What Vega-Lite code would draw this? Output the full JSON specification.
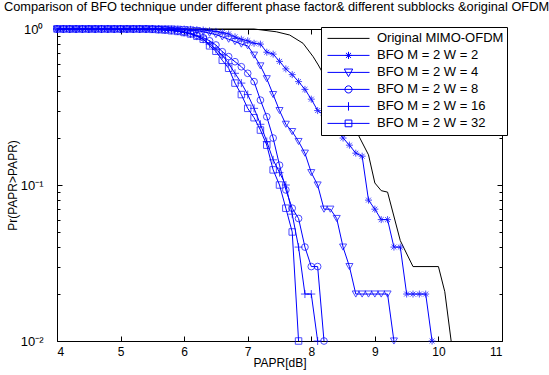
{
"$schema": "https://vega.github.io/schema/vega-lite/v6.json",
"width": 445, "height": 312,
"autosize": {"type": "none"},
"padding": {"left": 57, "top": 29, "right": 47, "bottom": 34},
"background": "white",
"title": {"text": "Comparison of BFO technique under different phase factor& different subblocks &original OFDM", "font": "Liberation Sans", "fontSize": 12.8, "fontWeight": "normal", "color": "black", "anchor": "middle", "dx": -3, "offset": 9},
"config": {
  "font": "Liberation Sans",
  "view": {"stroke": null},
  "axis": {"domainColor": "black", "tickColor": "black", "labelColor": "black", "titleColor": "black", "labelFont": "Liberation Sans", "titleFont": "Liberation Sans", "labelFontSize": 12, "titleFontSize": 12, "titleFontWeight": "normal", "grid": false, "domainWidth": 1, "tickWidth": 1}
},
"data": {"values": [
{"series":"Original MIMO-OFDM","papr":4,"p":1},{"series":"Original MIMO-OFDM","papr":7.1,"p":1},{"series":"Original MIMO-OFDM","papr":7.45,"p":0.96},{"series":"Original MIMO-OFDM","papr":7.66,"p":0.915},{"series":"Original MIMO-OFDM","papr":7.87,"p":0.81},{"series":"Original MIMO-OFDM","papr":8.03,"p":0.664},{"series":"Original MIMO-OFDM","papr":8.11,"p":0.588},{"series":"Original MIMO-OFDM","papr":8.37,"p":0.38},{"series":"Original MIMO-OFDM","papr":8.74,"p":0.209},{"series":"Original MIMO-OFDM","papr":8.9,"p":0.156},{"series":"Original MIMO-OFDM","papr":9.0,"p":0.103},{"series":"Original MIMO-OFDM","papr":9.1,"p":0.092},{"series":"Original MIMO-OFDM","papr":9.2,"p":0.09},{"series":"Original MIMO-OFDM","papr":9.4,"p":0.044},{"series":"Original MIMO-OFDM","papr":9.6,"p":0.03},{"series":"Original MIMO-OFDM","papr":10.0,"p":0.03},{"series":"Original MIMO-OFDM","papr":10.1,"p":0.0207},{"series":"Original MIMO-OFDM","papr":10.2,"p":0.01},

{"series":"BFO M = 2 W = 2","papr":4.0,"p":1},{"series":"BFO M = 2 W = 2","papr":4.1,"p":1},{"series":"BFO M = 2 W = 2","papr":4.2,"p":1},{"series":"BFO M = 2 W = 2","papr":4.3,"p":1},{"series":"BFO M = 2 W = 2","papr":4.4,"p":1},{"series":"BFO M = 2 W = 2","papr":4.5,"p":1},{"series":"BFO M = 2 W = 2","papr":4.6,"p":1},{"series":"BFO M = 2 W = 2","papr":4.7,"p":1},{"series":"BFO M = 2 W = 2","papr":4.8,"p":1},{"series":"BFO M = 2 W = 2","papr":4.9,"p":1},{"series":"BFO M = 2 W = 2","papr":5.0,"p":1},{"series":"BFO M = 2 W = 2","papr":5.1,"p":1},{"series":"BFO M = 2 W = 2","papr":5.2,"p":1},{"series":"BFO M = 2 W = 2","papr":5.3,"p":1},{"series":"BFO M = 2 W = 2","papr":5.4,"p":1},{"series":"BFO M = 2 W = 2","papr":5.5,"p":1},{"series":"BFO M = 2 W = 2","papr":5.6,"p":1},{"series":"BFO M = 2 W = 2","papr":5.7,"p":1},{"series":"BFO M = 2 W = 2","papr":5.8,"p":1},{"series":"BFO M = 2 W = 2","papr":5.9,"p":1},{"series":"BFO M = 2 W = 2","papr":6.0,"p":1},{"series":"BFO M = 2 W = 2","papr":6.1,"p":0.995},{"series":"BFO M = 2 W = 2","papr":6.2,"p":0.99},{"series":"BFO M = 2 W = 2","papr":6.3,"p":0.985},{"series":"BFO M = 2 W = 2","papr":6.4,"p":0.975},{"series":"BFO M = 2 W = 2","papr":6.5,"p":0.965},{"series":"BFO M = 2 W = 2","papr":6.6,"p":0.95},{"series":"BFO M = 2 W = 2","papr":6.7,"p":0.93},{"series":"BFO M = 2 W = 2","papr":6.8,"p":0.89},{"series":"BFO M = 2 W = 2","papr":6.9,"p":0.86},{"series":"BFO M = 2 W = 2","papr":7.0,"p":0.84},{"series":"BFO M = 2 W = 2","papr":7.1,"p":0.81},{"series":"BFO M = 2 W = 2","papr":7.2,"p":0.8},{"series":"BFO M = 2 W = 2","papr":7.3,"p":0.71},{"series":"BFO M = 2 W = 2","papr":7.4,"p":0.69},{"series":"BFO M = 2 W = 2","papr":7.5,"p":0.62},{"series":"BFO M = 2 W = 2","papr":7.6,"p":0.555},{"series":"BFO M = 2 W = 2","papr":7.7,"p":0.51},{"series":"BFO M = 2 W = 2","papr":7.8,"p":0.46},{"series":"BFO M = 2 W = 2","papr":7.9,"p":0.41},{"series":"BFO M = 2 W = 2","papr":8.0,"p":0.355},{"series":"BFO M = 2 W = 2","papr":8.1,"p":0.3},{"series":"BFO M = 2 W = 2","papr":8.2,"p":0.28},{"series":"BFO M = 2 W = 2","papr":8.3,"p":0.25},{"series":"BFO M = 2 W = 2","papr":8.4,"p":0.23},{"series":"BFO M = 2 W = 2","papr":8.5,"p":0.2},{"series":"BFO M = 2 W = 2","papr":8.6,"p":0.18},{"series":"BFO M = 2 W = 2","papr":8.7,"p":0.16},{"series":"BFO M = 2 W = 2","papr":8.8,"p":0.153},{"series":"BFO M = 2 W = 2","papr":8.9,"p":0.08},{"series":"BFO M = 2 W = 2","papr":9.0,"p":0.07},{"series":"BFO M = 2 W = 2","papr":9.1,"p":0.06},{"series":"BFO M = 2 W = 2","papr":9.2,"p":0.06},{"series":"BFO M = 2 W = 2","papr":9.3,"p":0.04},{"series":"BFO M = 2 W = 2","papr":9.4,"p":0.04},{"series":"BFO M = 2 W = 2","papr":9.5,"p":0.02},{"series":"BFO M = 2 W = 2","papr":9.6,"p":0.02},{"series":"BFO M = 2 W = 2","papr":9.7,"p":0.02},{"series":"BFO M = 2 W = 2","papr":9.8,"p":0.02},{"series":"BFO M = 2 W = 2","papr":9.9,"p":0.01},

{"series":"BFO M = 2 W = 4","papr":4.0,"p":1},{"series":"BFO M = 2 W = 4","papr":4.1,"p":1},{"series":"BFO M = 2 W = 4","papr":4.2,"p":1},{"series":"BFO M = 2 W = 4","papr":4.3,"p":1},{"series":"BFO M = 2 W = 4","papr":4.4,"p":1},{"series":"BFO M = 2 W = 4","papr":4.5,"p":1},{"series":"BFO M = 2 W = 4","papr":4.6,"p":1},{"series":"BFO M = 2 W = 4","papr":4.7,"p":1},{"series":"BFO M = 2 W = 4","papr":4.8,"p":1},{"series":"BFO M = 2 W = 4","papr":4.9,"p":1},{"series":"BFO M = 2 W = 4","papr":5.0,"p":1},{"series":"BFO M = 2 W = 4","papr":5.1,"p":1},{"series":"BFO M = 2 W = 4","papr":5.2,"p":1},{"series":"BFO M = 2 W = 4","papr":5.3,"p":1},{"series":"BFO M = 2 W = 4","papr":5.4,"p":1},{"series":"BFO M = 2 W = 4","papr":5.5,"p":1},{"series":"BFO M = 2 W = 4","papr":5.6,"p":1},{"series":"BFO M = 2 W = 4","papr":5.7,"p":1},{"series":"BFO M = 2 W = 4","papr":5.8,"p":1},{"series":"BFO M = 2 W = 4","papr":5.9,"p":0.995},{"series":"BFO M = 2 W = 4","papr":6.0,"p":0.99},{"series":"BFO M = 2 W = 4","papr":6.1,"p":0.985},{"series":"BFO M = 2 W = 4","papr":6.2,"p":0.975},{"series":"BFO M = 2 W = 4","papr":6.3,"p":0.96},{"series":"BFO M = 2 W = 4","papr":6.4,"p":0.94},{"series":"BFO M = 2 W = 4","papr":6.5,"p":0.92},{"series":"BFO M = 2 W = 4","papr":6.6,"p":0.89},{"series":"BFO M = 2 W = 4","papr":6.7,"p":0.86},{"series":"BFO M = 2 W = 4","papr":6.8,"p":0.83},{"series":"BFO M = 2 W = 4","papr":6.9,"p":0.8},{"series":"BFO M = 2 W = 4","papr":7.0,"p":0.78},{"series":"BFO M = 2 W = 4","papr":7.1,"p":0.68},{"series":"BFO M = 2 W = 4","papr":7.2,"p":0.58},{"series":"BFO M = 2 W = 4","papr":7.3,"p":0.48},{"series":"BFO M = 2 W = 4","papr":7.4,"p":0.38},{"series":"BFO M = 2 W = 4","papr":7.5,"p":0.3},{"series":"BFO M = 2 W = 4","papr":7.6,"p":0.245},{"series":"BFO M = 2 W = 4","papr":7.7,"p":0.22},{"series":"BFO M = 2 W = 4","papr":7.8,"p":0.19},{"series":"BFO M = 2 W = 4","papr":7.9,"p":0.16},{"series":"BFO M = 2 W = 4","papr":8.0,"p":0.12},{"series":"BFO M = 2 W = 4","papr":8.1,"p":0.1},{"series":"BFO M = 2 W = 4","papr":8.2,"p":0.07},{"series":"BFO M = 2 W = 4","papr":8.3,"p":0.07},{"series":"BFO M = 2 W = 4","papr":8.4,"p":0.061},{"series":"BFO M = 2 W = 4","papr":8.5,"p":0.04},{"series":"BFO M = 2 W = 4","papr":8.6,"p":0.03},{"series":"BFO M = 2 W = 4","papr":8.7,"p":0.02},{"series":"BFO M = 2 W = 4","papr":8.8,"p":0.02},{"series":"BFO M = 2 W = 4","papr":8.9,"p":0.02},{"series":"BFO M = 2 W = 4","papr":9.0,"p":0.02},{"series":"BFO M = 2 W = 4","papr":9.1,"p":0.02},{"series":"BFO M = 2 W = 4","papr":9.2,"p":0.02},{"series":"BFO M = 2 W = 4","papr":9.3,"p":0.01},

{"series":"BFO M = 2 W = 8","papr":4.0,"p":1},{"series":"BFO M = 2 W = 8","papr":4.1,"p":1},{"series":"BFO M = 2 W = 8","papr":4.2,"p":1},{"series":"BFO M = 2 W = 8","papr":4.3,"p":1},{"series":"BFO M = 2 W = 8","papr":4.4,"p":1},{"series":"BFO M = 2 W = 8","papr":4.5,"p":1},{"series":"BFO M = 2 W = 8","papr":4.6,"p":1},{"series":"BFO M = 2 W = 8","papr":4.7,"p":1},{"series":"BFO M = 2 W = 8","papr":4.8,"p":1},{"series":"BFO M = 2 W = 8","papr":4.9,"p":1},{"series":"BFO M = 2 W = 8","papr":5.0,"p":1},{"series":"BFO M = 2 W = 8","papr":5.1,"p":1},{"series":"BFO M = 2 W = 8","papr":5.2,"p":1},{"series":"BFO M = 2 W = 8","papr":5.3,"p":1},{"series":"BFO M = 2 W = 8","papr":5.4,"p":1},{"series":"BFO M = 2 W = 8","papr":5.5,"p":1},{"series":"BFO M = 2 W = 8","papr":5.6,"p":0.995},{"series":"BFO M = 2 W = 8","papr":5.7,"p":0.99},{"series":"BFO M = 2 W = 8","papr":5.8,"p":0.985},{"series":"BFO M = 2 W = 8","papr":5.9,"p":0.975},{"series":"BFO M = 2 W = 8","papr":6.0,"p":0.96},{"series":"BFO M = 2 W = 8","papr":6.1,"p":0.94},{"series":"BFO M = 2 W = 8","papr":6.2,"p":0.91},{"series":"BFO M = 2 W = 8","papr":6.3,"p":0.88},{"series":"BFO M = 2 W = 8","papr":6.4,"p":0.84},{"series":"BFO M = 2 W = 8","papr":6.5,"p":0.79},{"series":"BFO M = 2 W = 8","papr":6.6,"p":0.715},{"series":"BFO M = 2 W = 8","papr":6.7,"p":0.665},{"series":"BFO M = 2 W = 8","papr":6.8,"p":0.617},{"series":"BFO M = 2 W = 8","papr":6.9,"p":0.573},{"series":"BFO M = 2 W = 8","papr":7.0,"p":0.52},{"series":"BFO M = 2 W = 8","papr":7.1,"p":0.46},{"series":"BFO M = 2 W = 8","papr":7.2,"p":0.35},{"series":"BFO M = 2 W = 8","papr":7.3,"p":0.274},{"series":"BFO M = 2 W = 8","papr":7.4,"p":0.2},{"series":"BFO M = 2 W = 8","papr":7.5,"p":0.134},{"series":"BFO M = 2 W = 8","papr":7.6,"p":0.093},{"series":"BFO M = 2 W = 8","papr":7.7,"p":0.071},{"series":"BFO M = 2 W = 8","papr":7.8,"p":0.061},{"series":"BFO M = 2 W = 8","papr":7.9,"p":0.04},{"series":"BFO M = 2 W = 8","papr":8.0,"p":0.03},{"series":"BFO M = 2 W = 8","papr":8.1,"p":0.03},{"series":"BFO M = 2 W = 8","papr":8.2,"p":0.01},

{"series":"BFO M = 2 W = 16","papr":4.0,"p":1},{"series":"BFO M = 2 W = 16","papr":4.1,"p":1},{"series":"BFO M = 2 W = 16","papr":4.2,"p":1},{"series":"BFO M = 2 W = 16","papr":4.3,"p":1},{"series":"BFO M = 2 W = 16","papr":4.4,"p":1},{"series":"BFO M = 2 W = 16","papr":4.5,"p":1},{"series":"BFO M = 2 W = 16","papr":4.6,"p":1},{"series":"BFO M = 2 W = 16","papr":4.7,"p":1},{"series":"BFO M = 2 W = 16","papr":4.8,"p":1},{"series":"BFO M = 2 W = 16","papr":4.9,"p":1},{"series":"BFO M = 2 W = 16","papr":5.0,"p":1},{"series":"BFO M = 2 W = 16","papr":5.1,"p":1},{"series":"BFO M = 2 W = 16","papr":5.2,"p":1},{"series":"BFO M = 2 W = 16","papr":5.3,"p":1},{"series":"BFO M = 2 W = 16","papr":5.4,"p":1},{"series":"BFO M = 2 W = 16","papr":5.5,"p":1},{"series":"BFO M = 2 W = 16","papr":5.6,"p":0.995},{"series":"BFO M = 2 W = 16","papr":5.7,"p":0.99},{"series":"BFO M = 2 W = 16","papr":5.8,"p":0.98},{"series":"BFO M = 2 W = 16","papr":5.9,"p":0.97},{"series":"BFO M = 2 W = 16","papr":6.0,"p":0.95},{"series":"BFO M = 2 W = 16","papr":6.1,"p":0.93},{"series":"BFO M = 2 W = 16","papr":6.2,"p":0.9},{"series":"BFO M = 2 W = 16","papr":6.3,"p":0.86},{"series":"BFO M = 2 W = 16","papr":6.4,"p":0.8},{"series":"BFO M = 2 W = 16","papr":6.5,"p":0.74},{"series":"BFO M = 2 W = 16","papr":6.6,"p":0.68},{"series":"BFO M = 2 W = 16","papr":6.7,"p":0.6},{"series":"BFO M = 2 W = 16","papr":6.8,"p":0.52},{"series":"BFO M = 2 W = 16","papr":6.9,"p":0.45},{"series":"BFO M = 2 W = 16","papr":7.0,"p":0.38},{"series":"BFO M = 2 W = 16","papr":7.1,"p":0.31},{"series":"BFO M = 2 W = 16","papr":7.2,"p":0.245},{"series":"BFO M = 2 W = 16","papr":7.3,"p":0.19},{"series":"BFO M = 2 W = 16","papr":7.4,"p":0.145},{"series":"BFO M = 2 W = 16","papr":7.5,"p":0.12},{"series":"BFO M = 2 W = 16","papr":7.6,"p":0.1},{"series":"BFO M = 2 W = 16","papr":7.7,"p":0.065},{"series":"BFO M = 2 W = 16","papr":7.8,"p":0.04},{"series":"BFO M = 2 W = 16","papr":7.9,"p":0.02},{"series":"BFO M = 2 W = 16","papr":8.0,"p":0.02},{"series":"BFO M = 2 W = 16","papr":8.1,"p":0.01},

{"series":"BFO M = 2 W = 32","papr":4.0,"p":1},{"series":"BFO M = 2 W = 32","papr":4.1,"p":1},{"series":"BFO M = 2 W = 32","papr":4.2,"p":1},{"series":"BFO M = 2 W = 32","papr":4.3,"p":1},{"series":"BFO M = 2 W = 32","papr":4.4,"p":1},{"series":"BFO M = 2 W = 32","papr":4.5,"p":1},{"series":"BFO M = 2 W = 32","papr":4.6,"p":1},{"series":"BFO M = 2 W = 32","papr":4.7,"p":1},{"series":"BFO M = 2 W = 32","papr":4.8,"p":1},{"series":"BFO M = 2 W = 32","papr":4.9,"p":1},{"series":"BFO M = 2 W = 32","papr":5.0,"p":1},{"series":"BFO M = 2 W = 32","papr":5.1,"p":1},{"series":"BFO M = 2 W = 32","papr":5.2,"p":1},{"series":"BFO M = 2 W = 32","papr":5.3,"p":1},{"series":"BFO M = 2 W = 32","papr":5.4,"p":1},{"series":"BFO M = 2 W = 32","papr":5.5,"p":0.995},{"series":"BFO M = 2 W = 32","papr":5.6,"p":0.99},{"series":"BFO M = 2 W = 32","papr":5.7,"p":0.985},{"series":"BFO M = 2 W = 32","papr":5.8,"p":0.975},{"series":"BFO M = 2 W = 32","papr":5.9,"p":0.965},{"series":"BFO M = 2 W = 32","papr":6.0,"p":0.95},{"series":"BFO M = 2 W = 32","papr":6.1,"p":0.93},{"series":"BFO M = 2 W = 32","papr":6.2,"p":0.9},{"series":"BFO M = 2 W = 32","papr":6.3,"p":0.86},{"series":"BFO M = 2 W = 32","papr":6.4,"p":0.78},{"series":"BFO M = 2 W = 32","papr":6.5,"p":0.72},{"series":"BFO M = 2 W = 32","papr":6.6,"p":0.63},{"series":"BFO M = 2 W = 32","papr":6.7,"p":0.56},{"series":"BFO M = 2 W = 32","papr":6.8,"p":0.45},{"series":"BFO M = 2 W = 32","papr":6.9,"p":0.38},{"series":"BFO M = 2 W = 32","papr":7.0,"p":0.31},{"series":"BFO M = 2 W = 32","papr":7.1,"p":0.27},{"series":"BFO M = 2 W = 32","papr":7.2,"p":0.225},{"series":"BFO M = 2 W = 32","papr":7.3,"p":0.18},{"series":"BFO M = 2 W = 32","papr":7.4,"p":0.125},{"series":"BFO M = 2 W = 32","papr":7.5,"p":0.1},{"series":"BFO M = 2 W = 32","papr":7.6,"p":0.071},{"series":"BFO M = 2 W = 32","papr":7.7,"p":0.05},{"series":"BFO M = 2 W = 32","papr":7.8,"p":0.01}
]},
"layer": [
  {
    "mark": {"type": "line", "strokeWidth": 1},
    "encoding": {
      "x": {"field": "papr", "type": "quantitative", "scale": {"domain": [4, 11], "nice": false, "zero": false},
            "axis": {"orient": "bottom", "values": [4,5,6,7,8,9,10,11], "tickSize": -5, "labelPadding": 10, "title": "PAPR[dB]", "titlePadding": 0}},
      "y": {"field": "p", "type": "quantitative", "scale": {"type": "log", "domain": [0.01, 1], "nice": false},
            "axis": {"orient": "left", "values": [0.01,0.02,0.03,0.04,0.05,0.06,0.07,0.08,0.09,0.1,0.2,0.3,0.4,0.5,0.6,0.7,0.8,0.9,1],
                     "labelExpr": "datum.value == 1 ? '10⁰' : datum.value == 0.1 ? '10⁻¹' : datum.value == 0.01 ? '10⁻²' : ''",
                     "tickSize": {"condition": {"test": "datum.value == 1 || datum.value == 0.1 || datum.value == 0.01", "value": -5}, "value": -3},
                     "labelPadding": 19, "labelFontSize": 13, "title": "Pr(PAPR>PAPR)", "titleX": -45, "titleY": 156, "titleBaseline": "middle", "titleAlign": "center", "titleAngle": -90}},
      "color": {"field": "series", "type": "nominal",
                "scale": {"domain": ["Original MIMO-OFDM","BFO M = 2 W = 2","BFO M = 2 W = 4","BFO M = 2 W = 8","BFO M = 2 W = 16","BFO M = 2 W = 32"],
                          "range": ["#000000","#0000ff","#0000ff","#0000ff","#0000ff","#0000ff"]},
                "legend": {"title": null, "orient": "none", "legendX": 264, "legendY": -2, "padding": 3, "rowPadding": 0, "clipHeight": 16.8,
                           "symbolSize": 1764, "symbolOffset": 3, "labelOffset": 7, "labelFont": "Liberation Sans", "labelFontSize": 13, "labelColor": "black", "labelLimit": 0,
                           "fillColor": "white", "strokeColor": "black", "cornerRadius": 0,
                           "encode": {"symbols": {"update": {
                             "shape": {"signal": "datum.value === 'Original MIMO-OFDM' ? 'M-1,0L1,0' : datum.value === 'BFO M = 2 W = 2' ? 'M-1,0L1,0M-0.17,0L0.17,0M0,-0.17L0,0.17M-0.12,-0.12L0.12,0.12M-0.12,0.12L0.12,-0.12' : datum.value === 'BFO M = 2 W = 4' ? 'M-1,0L1,0M-0.2,-0.16L0.2,-0.16L0,0.2Z' : datum.value === 'BFO M = 2 W = 8' ? 'M-1,0L1,0M-0.17,0A0.17,0.17,0,1,1,0.17,0A0.17,0.17,0,1,1,-0.17,0Z' : datum.value === 'BFO M = 2 W = 16' ? 'M-1,0L1,0M0,-0.2L0,0.2' : 'M-1,0L1,0M-0.16,-0.16L0.16,-0.16L0.16,0.16L-0.16,0.16Z'"},
                             "stroke": {"signal": "datum.value === 'Original MIMO-OFDM' ? '#000000' : '#0000ff'"},
                             "fill": {"value": "transparent"},
                             "strokeWidth": {"value": 1},
                             "opacity": {"value": 1}
                           }}}}},
      "detail": {"field": "series"},
      "order": {"field": "papr", "type": "quantitative"}
    }
  },
  {
    "transform": [{"filter": "datum.series === 'BFO M = 2 W = 2'"}],
    "mark": {"type": "point", "filled": false, "strokeWidth": 1, "color": "#0000ff", "shape": "M-1,0L1,0M0,-1L0,1M-0.7,-0.7L0.7,0.7M-0.7,0.7L0.7,-0.7", "size": 49},
    "encoding": {
      "x": {"field": "papr", "type": "quantitative", "scale": {"domain": [4, 11], "nice": false, "zero": false},
            "axis": {"orient": "top", "values": [4,5,6,7,8,9,10,11], "tickSize": -5, "labels": false, "title": null}},
      "y": {"field": "p", "type": "quantitative", "scale": {"type": "log", "domain": [0.01, 1], "nice": false},
            "axis": {"orient": "right", "values": [0.01,0.02,0.03,0.04,0.05,0.06,0.07,0.08,0.09,0.1,0.2,0.3,0.4,0.5,0.6,0.7,0.8,0.9,1],
                     "tickSize": {"condition": {"test": "datum.value == 1 || datum.value == 0.1 || datum.value == 0.01", "value": -5}, "value": -3},
                     "labels": false, "title": null}}
    }
  },
  {
    "transform": [{"filter": "datum.series === 'BFO M = 2 W = 4'"}],
    "mark": {"type": "point", "filled": false, "strokeWidth": 1, "color": "#0000ff", "shape": "triangle-down", "size": 50},
    "encoding": {
      "x": {"field": "papr", "type": "quantitative", "axis": null},
      "y": {"field": "p", "type": "quantitative", "scale": {"type": "log"}, "axis": null}
    }
  },
  {
    "transform": [{"filter": "datum.series === 'BFO M = 2 W = 8'"}],
    "mark": {"type": "point", "filled": false, "strokeWidth": 1, "color": "#0000ff", "shape": "circle", "size": 45},
    "encoding": {
      "x": {"field": "papr", "type": "quantitative", "axis": null},
      "y": {"field": "p", "type": "quantitative", "scale": {"type": "log"}, "axis": null}
    }
  },
  {
    "transform": [{"filter": "datum.series === 'BFO M = 2 W = 16'"}],
    "mark": {"type": "point", "filled": false, "strokeWidth": 1, "color": "#0000ff", "shape": "M-1,0L1,0M0,-1L0,1", "size": 64},
    "encoding": {
      "x": {"field": "papr", "type": "quantitative", "axis": null},
      "y": {"field": "p", "type": "quantitative", "scale": {"type": "log"}, "axis": null}
    }
  },
  {
    "transform": [{"filter": "datum.series === 'BFO M = 2 W = 32'"}],
    "mark": {"type": "point", "filled": false, "strokeWidth": 1, "color": "#0000ff", "shape": "square", "size": 42},
    "encoding": {
      "x": {"field": "papr", "type": "quantitative", "axis": null},
      "y": {"field": "p", "type": "quantitative", "scale": {"type": "log"}, "axis": null}
    }
  }
],
"resolve": {"axis": {"x": "independent", "y": "independent"}}
}
